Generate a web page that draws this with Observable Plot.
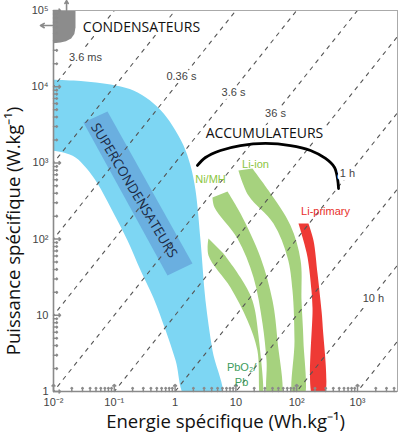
<!DOCTYPE html>
<html>
<head>
<meta charset="utf-8">
<script src="https://cdn.jsdelivr.net/npm/d3@7"></script>
<script src="https://cdn.jsdelivr.net/npm/@observablehq/plot@0.6"></script>
<style>
  body { margin: 0; background: #fff; }
  #chart svg { display: block; }
</style>
</head>
<body>
<div id="chart"></div>
<script>
// Ragone diagram: specific power vs specific energy of storage technologies

// Axis ticks
const xTicks = [0.01, 0.1, 1, 10, 100, 1000];
const xTickLabels = ["10⁻²", "10⁻¹", "1", "10", "10²", "10³"];
const yTicks = [1, 10, 100, 1000, 1e4, 1e5];
const yTickLabels = ["1", "10", "10²", "10³", "10⁴", "10⁵"];

// Discharge-time iso-lines (hours): P = E / t
const dischargeHours = [1e-6, 1e-5, 1e-4, 1e-3, 1e-2, 1e-1, 1, 10, 100, 1000];

// Domains (Wh/kg, W/kg)
const energyDomain = [0.01, 4550];
const powerDomain = [1, 1e5];

// Technology regions as outlines [energy, power]
const condensateurs = [
  [0.009, 1.1e5], [0.023, 1.1e5], [0.023, 6e4], [0.022, 4.9e4], [0.0195, 4.3e4],
  [0.016, 3.95e4], [0.013, 3.8e4], [0.009, 3.7e4]
];
const supercondensateurs = [
  [0.009, 12400], [0.028, 11900], [0.087, 10700], [0.18, 9300], [0.33, 7200],
  [0.58, 4900], [0.9, 3100], [1.37, 1700], [1.79, 925], [2.17, 434], [2.62, 96],
  [3.16, 15.6], [4.12, 3.45], [5.8, 0.8],
  [1.55, 0.8], [1.02, 2.55], [0.7, 6.3], [0.44, 17], [0.27, 39], [0.165, 96],
  [0.087, 260], [0.053, 537], [0.034, 870], [0.023, 1180], [0.0146, 1370], [0.009, 1455]
];
const superBand = [[0.0311, 3390], [0.0773, 4730], [1.93, 47.9], [0.75, 33.3]];
const pbBand = [
  [3.54, 102], [3.54, 61], [8.15, 23.2], [15.5, 8.55], [22.6, 3.45], [25.4, 0.8],
  [27.4, 0.8], [23.5, 5.43], [18.7, 15.6], [11.9, 31.3], [6.25, 64.7]
];
const nimhBand = [
  [4.12, 352], [4.45, 260], [10.6, 102], [19.5, 31.3], [27.4, 7.8], [31.9, 2.55], [34.4, 0.8],
  [54.2, 0.8], [48.3, 4.67], [40.0, 15.6], [25.4, 57.4], [11.9, 217], [7.28, 422]
];
const liionBand = [
  [11, 795], [16.1, 373], [41.5, 160], [70.6, 57.4], [85.3, 21.1], [92, 4.67], [88.5, 0.8],
  [129, 0.8], [129, 4.67], [120, 15.6], [116, 52.4], [79.1, 151], [34.4, 434], [18.7, 845]
];
const liprimaryBand = [
  [107, 160], [129, 96], [151, 57.4], [175, 21.1], [182, 12.6], [189, 0.8],
  [276, 0.8], [266, 7.8], [246, 15.6], [220, 35.4], [189, 96], [156, 160]
];
const accumulateursArc = [
  [2.33, 925], [3.16, 1178], [5.58, 1455], [11.9, 1690], [30.7, 1800], [79, 1690],
  [169, 1455], [298, 1143], [419, 871], [469, 624], [488, 461]
];

// Text annotations [text, energy, power]
const timeLabels = [
  ["3.6 ms", 0.0336, 24200], ["0.36 s", 1.27, 13600], ["3.6 s", 9.14, 8390],
  ["36 s", 44.8, 4450], ["1 h", 685, 726], ["10 h", 1830, 16.6]
];
const groupLabels = [
  ["CONDENSATEURS", 0.28, 59800], ["ACCUMULATEURS", 29.5, 2430]
];
const techLabels = [
  ["Ni/MH", 3.82, 624, "#8cc63e"], ["Li-ion", 21, 982, "#8cc63e"],
  ["Li-primary", 298, 237, "#e8302b"], ["PbO₂/\nPb", 12.4, 1.7, "#3c9c5c"]
];
const superLabel = ["SUPERCONDENSATEURS", 0.211, 434];

// Minor ticks (2..9 of each decade)
const minorX = [];
for (let k = -2; k <= 3; k++) for (let m = 2; m <= 9; m++) {
  const v = m * 10 ** k; if (v <= energyDomain[1]) minorX.push(v);
}
const minorY = [];
for (let k = 0; k < 5; k++) for (let m = 2; m <= 9; m++) minorY.push(m * 10 ** k);

const isoRows = dischargeHours.flatMap(t => [
  {t, e: 0.005, p: 0.005 / t}, {t, e: 1e4, p: 1e4 / t}
]);

const pts = a => a.map(([e, p]) => ({e, p}));
const shape = (a, fill, curve = "catmull-rom") =>
  Plot.line(pts(a), {x: "e", y: "p", fill, stroke: "none", curve, clip: true});

const chart = Plot.plot({
  width: 402,
  height: 435,
  marginLeft: 53,
  marginRight: 5,
  marginTop: 10,
  marginBottom: 44,
  x: {type: "log", domain: energyDomain, axis: null},
  y: {type: "log", domain: powerDomain, axis: null},
  style: {fontFamily: "'Liberation Sans', Arial, sans-serif", background: "white"},
  marks: [
    shape(condensateurs, "#8c8c8c", "linear"),
    shape(supercondensateurs, "#7dd6f3"),
    shape(superBand, "#6aafe0", "linear"),
    shape(pbBand, "#a6d27e"),
    shape(nimhBand, "#a6d27e"),
    shape(liionBand, "#a6d27e"),
    shape(liprimaryBand, "#ee3a35"),
    Plot.line(isoRows, {x: "e", y: "p", z: "t", stroke: "#555", strokeWidth: 1.1,
      strokeDasharray: "3.5,5.5", clip: true}),
    Plot.line(pts(accumulateursArc), {x: "e", y: "p", stroke: "#000", strokeWidth: 2.8,
      curve: "catmull-rom", clip: true}),
    // frame and axes
    Plot.frame({stroke: "#aaa", strokeWidth: 1}),
    Plot.ruleX([energyDomain[0]], {stroke: "#8a8a8a", strokeWidth: 1.6}),
    Plot.ruleY([powerDomain[0]], {stroke: "#8a8a8a", strokeWidth: 1.6}),
    Plot.vector(minorX, {x: d => d, y: () => powerDomain[0], length: 4, rotate: 0,
      anchor: "start", stroke: "#8a8a8a"}),
    Plot.vector(xTicks, {x: d => d, y: () => powerDomain[0], length: 7, rotate: 0,
      anchor: "start", stroke: "#8a8a8a"}),
    Plot.vector(minorY, {x: () => energyDomain[0], y: d => d, length: 4, rotate: 90,
      anchor: "start", stroke: "#8a8a8a"}),
    Plot.vector(yTicks, {x: () => energyDomain[0], y: d => d, length: 7, rotate: 90,
      anchor: "start", stroke: "#8a8a8a"}),
    Plot.text(xTicks, {x: d => d, y: () => powerDomain[0], text: (d, i) => xTickLabels[i],
      dy: 11, fontSize: 11, fill: "#444"}),
    Plot.text(yTicks, {x: () => energyDomain[0], y: d => d, text: (d, i) => yTickLabels[i],
      dx: -5, textAnchor: "end", fontSize: 11, fill: "#444"}),
    // arrows: capacitors extend beyond the plotted range
    Plot.arrow([{x1: 0.0164, y1: 1e5, x2: 0.0164, y2: 1.35e5}, {x1: 0.01, y1: 63500, x2: 0.0061, y2: 63500}],
      {x1: "x1", y1: "y1", x2: "x2", y2: "y2", stroke: "#8a8a8a", strokeWidth: 1.6, headLength: 6}),
    // annotations
    Plot.text(timeLabels, {x: d => d[1], y: d => d[2], text: d => d[0], fontSize: 11,
      fill: "#444", stroke: "white", strokeWidth: 6}),
    Plot.text(groupLabels, {x: d => d[1], y: d => d[2], text: d => d[0], fontSize: 14,
      fontFamily: "'Open Sans', sans-serif", fill: "#111", stroke: "white", strokeWidth: 6}),
    Plot.text(techLabels, {x: d => d[1], y: d => d[2], text: d => d[0], fontSize: 11,
      fill: d => d[3], lineHeight: 1.3}),
    Plot.text([superLabel], {x: d => d[1], y: d => d[2], text: d => d[0], rotate: 59,
      fontSize: 13.5, fontFamily: "'Open Sans', sans-serif", fill: "#1b2a44"}),
    // axis titles
    Plot.text(["Energie spécifique (Wh.kg⁻¹)"], {frameAnchor: "bottom", dy: 31,
      lineAnchor: "middle", textAnchor: "middle", fontSize: 18.5,
      fontFamily: "'Open Sans', sans-serif", fill: "#111"}),
    Plot.text(["Puissance spécifique (W.kg⁻¹)"], {frameAnchor: "left", dx: -39, dy: 30,
      rotate: -90, lineAnchor: "middle", textAnchor: "middle", fontSize: 18.5,
      fontFamily: "'Open Sans', sans-serif", fill: "#111"})
  ]
});
document.getElementById("chart").append(chart);
</script>
</body>
</html>
